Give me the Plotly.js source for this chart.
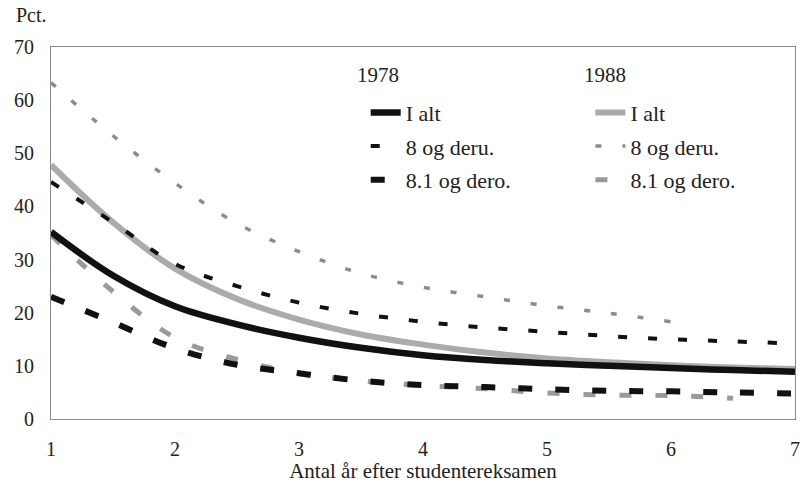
<!DOCTYPE html>
<html>
<head>
<meta charset="utf-8">
<script src="https://cdn.plot.ly/plotly-3.0.1.min.js"></script>
<style>html,body{margin:0;padding:0;background:#fff;}#chart{width:810px;height:483px;}</style>
</head>
<body>
<div id="chart"></div>
<script>
const years = [1, 1.5, 2, 2.5, 3, 3.5, 4, 4.5, 5, 5.5, 6, 6.5, 7];
const xTicks = [1, 2, 3, 4, 5, 6, 7];
const yTicks = [0, 10, 20, 30, 40, 50, 60, 70];
const labels = ["I alt", "8 og deru.", "8.1 og dero."];
const cohorts = ["1978", "1988"];

const alt1978  = [35.2, 27.0, 21.2, 17.8, 15.3, 13.4, 12.0, 11.1, 10.5, 10.0, 9.6, 9.2, 8.9];
const deru1978 = [44.6, 37.0, 29.2, 25.0, 21.9, 19.8, 18.3, 17.2, 16.4, 15.6, 15.0, 14.6, 14.2];
const dero1978 = [23.0, 18.2, 13.3, 10.2, 8.6, 7.2, 6.4, 6.0, 5.6, 5.3, 5.2, 5.0, 4.8];

const alt1988  = [47.8, 37.0, 28.3, 22.6, 18.7, 15.9, 14.0, 12.5, 11.4, 10.7, 10.1, 9.7, 9.4];
const deru1988 = [63.3, 53.3, 44.4, 36.8, 31.5, 27.4, 24.8, 23.0, 21.3, 19.9, 18.3, null, null];
const dero1988 = [34.6, 24.0, 15.3, 11.2, 8.6, 7.2, 6.3, 5.7, 4.9, 4.5, 4.4, 3.9, null];

const FONT = "'Liberation Serif', 'DejaVu Serif', serif";

function tr(y, name, legend, group, color, width, dash) {
  return {
    x: years, y: y, name: name, type: "scatter", mode: "lines",
    legend: legend, legendgroup: group,
    connectgaps: false,
    line: {color: color, width: width, dash: dash, shape: "spline", smoothing: 1}
  };
}

const traces = [
  tr(alt1988,  labels[0], "legend2", "b1", "#ababab", 6, "solid"),
  tr(deru1988, labels[1], "legend2", "b2", "#8c8c8c", 3.5, "6px,21px"),
  tr(dero1988, labels[2], "legend2", "b3", "#9a9a9a", 5, "12px,24px"),
  tr(alt1978,  labels[0], "legend",  "a1", "#111111", 6.5, "solid"),
  tr(deru1978, labels[1], "legend",  "a2", "#111111", 4, "9px,21px"),
  tr(dero1978, labels[2], "legend",  "a3", "#111111", 6, "14px,23px")
];

const legendCommon = {
  bgcolor: "rgba(0,0,0,0)", borderwidth: 0,
  font: {family: FONT, size: 22, color: "#222"},
  traceorder: "grouped", tracegroupgap: 2,
  xanchor: "left", yanchor: "top", y: 0.88
};

const layout = {
  width: 810, height: 483,
  margin: {l: 51, r: 15, t: 47, b: 64},
  paper_bgcolor: "#fff", plot_bgcolor: "#fff",
  font: {family: FONT, size: 20, color: "#222"},
  showlegend: true,
  legend: Object.assign({x: 0.423}, legendCommon),
  legend2: Object.assign({x: 0.725}, legendCommon),
  xaxis: {
    range: [1, 7], tickvals: xTicks, ticktext: xTicks.map(String),
    showgrid: false, zeroline: false,
    showline: true, mirror: true, linecolor: "#888", linewidth: 1,
    ticks: "", ticklabelstandoff: 12,
    tickfont: {family: FONT, size: 20, color: "#222"},
    title: {text: "Antal år efter studentereksamen", font: {family: FONT, size: 21, color: "#222"}, standoff: 0}
  },
  yaxis: {
    range: [0, 70], tickvals: yTicks, ticktext: yTicks.map(String),
    showgrid: false, zeroline: false,
    showline: true, mirror: true, linecolor: "#888", linewidth: 1,
    ticks: "", ticklabelstandoff: 12,
    tickfont: {family: FONT, size: 20, color: "#222"}
  },
  annotations: [
    {text: "Pct.", xref: "paper", yref: "paper", x: -0.05, y: 1.085, xanchor: "left", yanchor: "middle", showarrow: false, font: {family: FONT, size: 20, color: "#222"}},
    {text: cohorts[0], xref: "paper", yref: "paper", x: 0.44, y: 0.925, xanchor: "center", yanchor: "middle", showarrow: false, font: {family: FONT, size: 21, color: "#222"}},
    {text: cohorts[1], xref: "paper", yref: "paper", x: 0.745, y: 0.925, xanchor: "center", yanchor: "middle", showarrow: false, font: {family: FONT, size: 21, color: "#222"}}
  ]
};

Plotly.newPlot("chart", traces, layout, {displayModeBar: false, staticPlot: true});
</script>
</body>
</html>
